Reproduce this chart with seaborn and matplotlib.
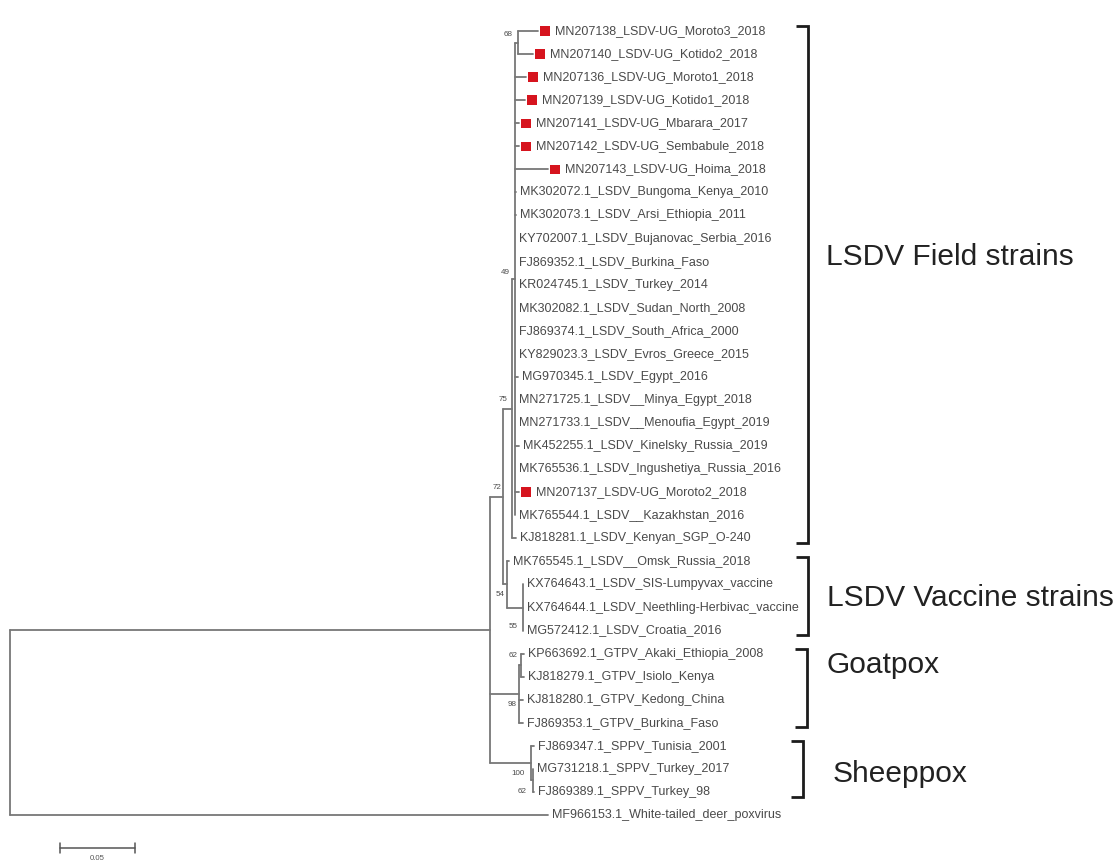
import matplotlib
matplotlib.use("Agg")
import matplotlib.pyplot as plt
import seaborn as sns
import pandas as pd

# tip labels, top to bottom
taxa = [
    "MN207138_LSDV-UG_Moroto3_2018",
    "MN207140_LSDV-UG_Kotido2_2018",
    "MN207136_LSDV-UG_Moroto1_2018",
    "MN207139_LSDV-UG_Kotido1_2018",
    "MN207141_LSDV-UG_Mbarara_2017",
    "MN207142_LSDV-UG_Sembabule_2018",
    "MN207143_LSDV-UG_Hoima_2018",
    "MK302072.1_LSDV_Bungoma_Kenya_2010",
    "MK302073.1_LSDV_Arsi_Ethiopia_2011",
    "KY702007.1_LSDV_Bujanovac_Serbia_2016",
    "FJ869352.1_LSDV_Burkina_Faso",
    "KR024745.1_LSDV_Turkey_2014",
    "MK302082.1_LSDV_Sudan_North_2008",
    "FJ869374.1_LSDV_South_Africa_2000",
    "KY829023.3_LSDV_Evros_Greece_2015",
    "MG970345.1_LSDV_Egypt_2016",
    "MN271725.1_LSDV__Minya_Egypt_2018",
    "MN271733.1_LSDV__Menoufia_Egypt_2019",
    "MK452255.1_LSDV_Kinelsky_Russia_2019",
    "MK765536.1_LSDV_Ingushetiya_Russia_2016",
    "MN207137_LSDV-UG_Moroto2_2018",
    "MK765544.1_LSDV__Kazakhstan_2016",
    "KJ818281.1_LSDV_Kenyan_SGP_O-240",
    "MK765545.1_LSDV__Omsk_Russia_2018",
    "KX764643.1_LSDV_SIS-Lumpyvax_vaccine",
    "KX764644.1_LSDV_Neethling-Herbivac_vaccine",
    "MG572412.1_LSDV_Croatia_2016",
    "KP663692.1_GTPV_Akaki_Ethiopia_2008",
    "KJ818279.1_GTPV_Isiolo_Kenya",
    "KJ818280.1_GTPV_Kedong_China",
    "FJ869353.1_GTPV_Burkina_Faso",
    "FJ869347.1_SPPV_Tunisia_2001",
    "MG731218.1_SPPV_Turkey_2017",
    "FJ869389.1_SPPV_Turkey_98",
    "MF966153.1_White-tailed_deer_poxvirus",
]

# distance from root (substitutions/site)
tip_dist = [
    0.3520, 0.3487, 0.3440, 0.3433, 0.3393, 0.3393, 0.3587,
    0.3373, 0.3373, 0.3367, 0.3367, 0.3367, 0.3367, 0.3367, 0.3367,
    0.3387, 0.3367, 0.3367, 0.3393, 0.3367, 0.3393, 0.3367, 0.3373,
    0.3327, 0.3420, 0.3420, 0.3420,
    0.3427, 0.3427, 0.3420, 0.3420,
    0.3493, 0.3487, 0.3493,
    0.3587,
]

# internal nodes: children (ints = tips) and distance from root
children = {
    "root": ["capri", 34],
    "capri": ["n72", "n98", "n100"],
    "n72": ["n75", "n54"],
    "n75": ["n49", 22],
    "n49": ["n68"] + list(range(2, 22)),
    "n68": [0, 1],
    "n54": [23, "n55"],
    "n55": [24, 25, 26],
    "n98": ["n62g", 29, 30],
    "n62g": [27, 28],
    "n100": [31, "n62s"],
    "n62s": [32, 33],
}
node_dist = {
    "root": 0.0, "capri": 0.3200, "n72": 0.3287, "n75": 0.3347,
    "n49": 0.3367, "n68": 0.3387, "n54": 0.3313, "n55": 0.3420,
    "n98": 0.3393, "n62g": 0.3407, "n100": 0.3473, "n62s": 0.3487,
}
bootstrap = {
    "n68": 68, "n49": 49, "n75": 75, "n72": 72, "n54": 54,
    "n55": 55, "n62g": 62, "n98": 98, "n100": 100, "n62s": 62,
}

clade_names = ["LSDV Field strains", "LSDV Vaccine strains", "Goatpox", "Sheeppox"]
clade_first = [0, 23, 27, 31]
clade_last = [22, 26, 30, 33]

scale_len = 0.05

# ---- layout (pixel based) ----
W, H = 1118, 867
SX = 1500.0          # px per unit of distance
X0 = 10              # root position, px
ROW = 23.06          # px per tip
Y0 = 31              # first tip, px

def px(p):
    return p / SX

boot_off = {  # label right edge / centre offset from node in px
    "n68": (-5, -8), "n49": (-5, -6), "n75": (-5, -9), "n72": (-2, -9),
    "n54": (-2, 10), "n55": (-5, 19), "n62g": (-3, -10), "n98": (-2, 11),
    "n100": (-6, 10), "n62s": (-6, 11),
}
bracket_x = [808, 808, 807, 803]
clade_text_x = [826, 827, 826, 833]
clade_text_y = [9.8, 24.6, 27.5, 32.2]

sns.set_theme(style="white")
plt.rcParams["font.family"] = ["Liberation Sans", "DejaVu Sans"]

fig = plt.figure(figsize=(W / 100, H / 100), dpi=100)
ax = fig.add_axes([0, 0, 1, 1])
ax.set_xlim(-X0 / SX, (W - X0) / SX)
ax.set_ylim((H - Y0) / ROW, -Y0 / ROW)
ax.axis("off")

# node y positions
node_y = {}

def get_y(n):
    if isinstance(n, int):
        return float(n)
    if n not in node_y:
        ys = [get_y(c) for c in children[n]]
        node_y[n] = (ys[0] + ys[-1]) / 2
    return node_y[n]

def get_x(n):
    return tip_dist[n] if isinstance(n, int) else node_dist[n]

rows = []
seg = 0
for n, kids in children.items():
    nx = node_dist[n]
    ys = [get_y(c) for c in kids]
    rows += [(seg, nx, ys[0]), (seg, nx, ys[-1])]
    seg += 1
    for c in kids:
        rows += [(seg, nx, get_y(c)), (seg, get_x(c), get_y(c))]
        seg += 1
segs = pd.DataFrame(rows, columns=["seg", "x", "y"])

line_col = "#777777"
sns.lineplot(data=segs, x="x", y="y", units="seg", estimator=None, sort=False,
             color=line_col, lw=1.3, ax=ax, legend=False)

# tips
uganda = [i for i, t in enumerate(taxa) if "-UG_" in t]
sns.scatterplot(x=[tip_dist[i] + px(7) for i in uganda], y=uganda, marker="s",
                s=46, color="#d6141e", edgecolor="none", ax=ax, legend=False,
                zorder=3)
for i, t in enumerate(taxa):
    off = 17 if i in uganda else 4
    ax.text(tip_dist[i] + px(off), i, t, fontsize=9, color="#4a4a4a",
            va="center", ha="left")

# bootstrap values
for n, b in bootstrap.items():
    dx, dy = boot_off[n]
    ax.text(node_dist[n] + px(dx), get_y(n) + dy / ROW, str(b), fontsize=5.8,
            color="#4a4a4a", ha="right", va="center")

# clade brackets
for name, a, b, bx, tx, ty in zip(clade_names, clade_first, clade_last,
                                   bracket_x, clade_text_x, clade_text_y):
    xr = px(bx - X0)
    xl = px(bx - X0 - 12)
    ya, yb = a - 0.2, b + 0.2
    ax.plot([xl, xr, xr, xl], [ya, ya, yb, yb], color="#1c1c1c", lw=2.0,
            solid_joinstyle="miter", solid_capstyle="butt")
    ax.text(px(tx - X0), ty, name, fontsize=21.5, color="#222222",
            ha="left", va="center")

# scale bar
sb_x = px(60 - X0)
sb_y = (848 - Y0) / ROW
tk = 5 / ROW
ax.plot([sb_x, sb_x + scale_len], [sb_y, sb_y], color="#555555", lw=1.1)
ax.plot([sb_x, sb_x], [sb_y - tk, sb_y + tk], color="#555555", lw=1.1)
ax.plot([sb_x + scale_len] * 2, [sb_y - tk, sb_y + tk], color="#555555", lw=1.1)
ax.text(sb_x + scale_len / 2, sb_y + 11 / ROW, "0.05", fontsize=5.6,
        color="#555555", ha="center", va="center")

fig.savefig("out.png", dpi=100)
